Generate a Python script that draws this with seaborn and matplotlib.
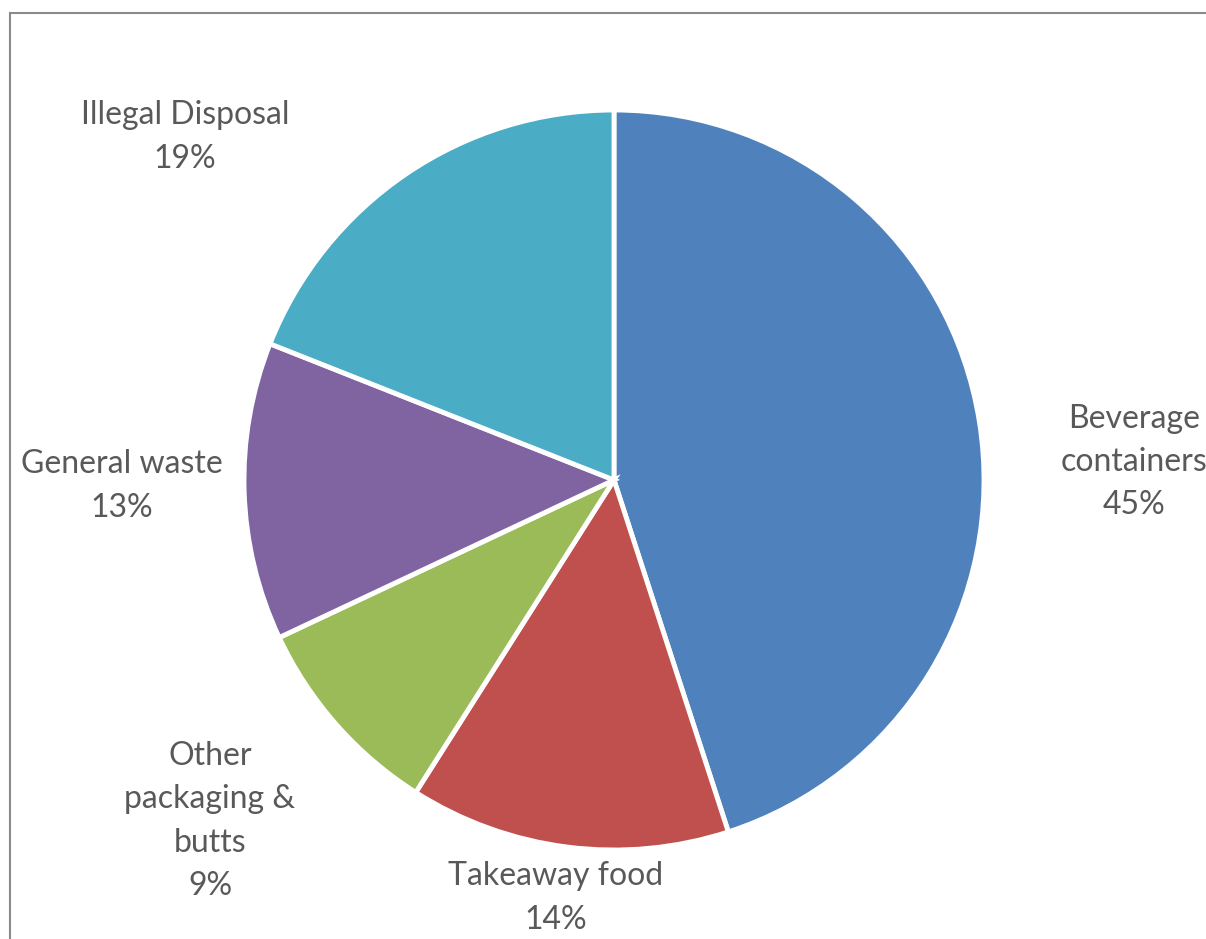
import matplotlib
matplotlib.use("Agg")
import matplotlib.pyplot as plt
import seaborn as sns
from matplotlib.patches import Rectangle

categories = ["Beverage\ncontainers", "Takeaway food", "Other\npackaging &\nbutts", "General waste", "Illegal Disposal"]
values = [45, 14, 9, 13, 19]
colors = ["#4F81BD", "#C0504D", "#9BBB59", "#8064A2", "#4BACC6"]

sns.set_theme(style="white")
plt.rcParams['font.family'] = ['Lato', 'DejaVu Sans']

W, H = 1206, 939
fig = plt.figure(figsize=(W / 100, H / 100), dpi=100)
fig.patch.set_facecolor("white")

# pie placement in pixels
cx, cy, r = 614, 480, 370
ax = fig.add_axes([(cx - r) / W, (H - cy - r) / H, 2 * r / W, 2 * r / H])
wedges, _ = ax.pie(values, colors=colors, startangle=90, counterclock=False,
                   wedgeprops=dict(edgecolor="white", linewidth=3.5))
ax.set_xlim(-1, 1)
ax.set_ylim(-1, 1)
ax.set_aspect("equal")
ax.axis("off")

# label anchor positions (pixel centers)
label_pos = [(1134, 462), (556, 898), (210, 821), (122, 486), (185, 137)]
for cat, v, (px, py) in zip(categories, values, label_pos):
    fig.text(px / W, 1 - py / H, f"{cat}\n{v}%", ha="center", va="center",
             fontsize=23, color="#595959", linespacing=1.55)

# chart border (partially cropped)
fig.patches.append(Rectangle((10 / W, -0.1), 1.2, 1 - 13 / H + 0.1,
                             transform=fig.transFigure, fill=False,
                             edgecolor="#8a8a8a", linewidth=1.5))

fig.savefig("out.png", dpi=100)
